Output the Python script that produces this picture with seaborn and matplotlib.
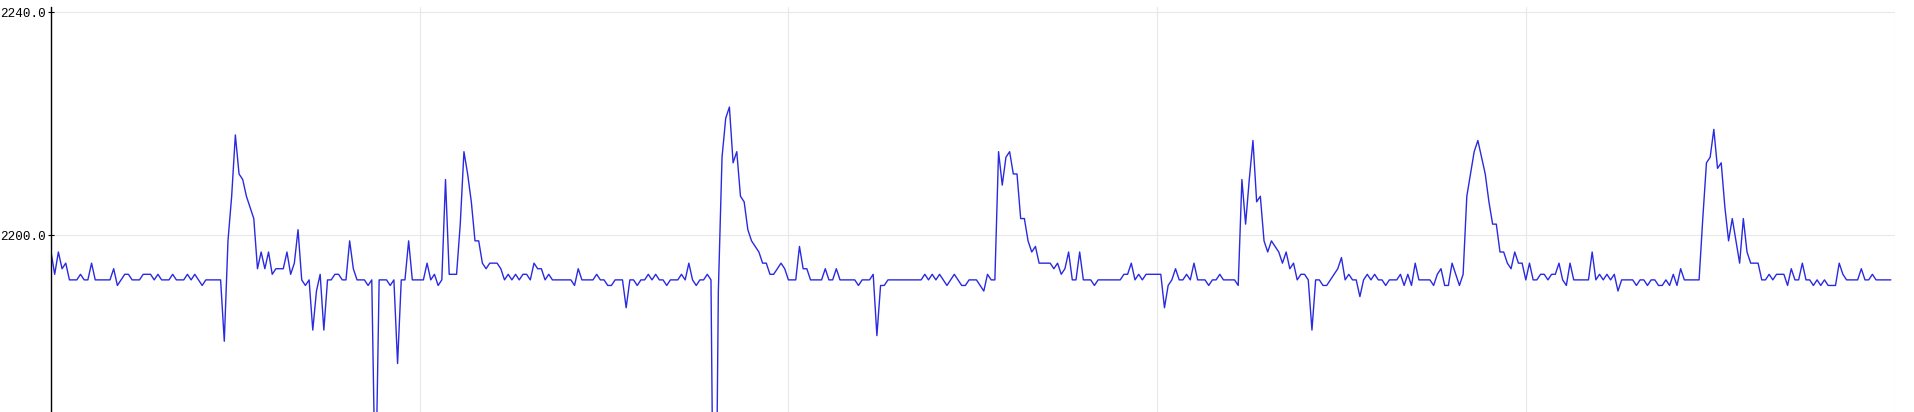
import numpy as np
import pandas as pd
import matplotlib
matplotlib.use('Agg')
import matplotlib.pyplot as plt
import seaborn as sns

# serial plotter buffer: 500 samples
signal = [
    2197, 2193, 2197, 2194, 2195, 2192, 2192, 2192, 2193, 2192,
    2192, 2195, 2192, 2192, 2192, 2192, 2192, 2194, 2191, 2192,
    2193, 2193, 2192, 2192, 2192, 2193, 2193, 2193, 2192, 2193,
    2192, 2192, 2192, 2193, 2192, 2192, 2192, 2193, 2192, 2193,
    2192, 2191, 2192, 2192, 2192, 2192, 2192, 2181, 2199, 2207,
    2218, 2211, 2210, 2207, 2205, 2203, 2194, 2197, 2194, 2197,
    2193, 2194, 2194, 2194, 2197, 2193, 2195, 2201, 2192, 2191,
    2192, 2183, 2190, 2193, 2183, 2192, 2192, 2193, 2193, 2192,
    2192, 2199, 2194, 2192, 2192, 2192, 2191, 2192, 2152, 2192,
    2192, 2192, 2191, 2192, 2177, 2192, 2192, 2199, 2192, 2192,
    2192, 2192, 2195, 2192, 2193, 2191, 2192, 2210, 2193, 2193,
    2193, 2202, 2215, 2211, 2206, 2199, 2199, 2195, 2194, 2195,
    2195, 2195, 2194, 2192, 2193, 2192, 2193, 2192, 2193, 2193,
    2192, 2195, 2194, 2194, 2192, 2193, 2192, 2192, 2192, 2192,
    2192, 2192, 2191, 2194, 2192, 2192, 2192, 2192, 2193, 2192,
    2192, 2191, 2191, 2192, 2192, 2192, 2187, 2192, 2192, 2191,
    2192, 2192, 2193, 2192, 2193, 2192, 2192, 2191, 2192, 2192,
    2192, 2193, 2192, 2195, 2192, 2191, 2192, 2192, 2193, 2192,
    2120, 2190, 2214, 2221, 2223, 2213, 2215, 2207, 2206, 2201,
    2199, 2198, 2197, 2195, 2195, 2193, 2193, 2194, 2195, 2194,
    2192, 2192, 2192, 2198, 2194, 2194, 2192, 2192, 2192, 2192,
    2194, 2192, 2192, 2194, 2192, 2192, 2192, 2192, 2192, 2191,
    2192, 2192, 2192, 2193, 2182, 2191, 2191, 2192, 2192, 2192,
    2192, 2192, 2192, 2192, 2192, 2192, 2192, 2193, 2192, 2193,
    2192, 2193, 2192, 2191, 2192, 2193, 2192, 2191, 2191, 2192,
    2192, 2192, 2191, 2190, 2193, 2192, 2192, 2215, 2209, 2214,
    2215, 2211, 2211, 2203, 2203, 2199, 2197, 2198, 2195, 2195,
    2195, 2195, 2194, 2195, 2193, 2194, 2197, 2192, 2192, 2197,
    2192, 2192, 2192, 2191, 2192, 2192, 2192, 2192, 2192, 2192,
    2192, 2193, 2193, 2195, 2192, 2193, 2192, 2193, 2193, 2193,
    2193, 2193, 2187, 2191, 2192, 2194, 2192, 2192, 2193, 2192,
    2195, 2192, 2192, 2192, 2191, 2192, 2192, 2193, 2192, 2192,
    2192, 2192, 2191, 2210, 2202, 2210, 2217, 2206, 2207, 2199,
    2197, 2199, 2198, 2197, 2195, 2197, 2194, 2195, 2192, 2193,
    2193, 2192, 2183, 2192, 2192, 2191, 2191, 2192, 2193, 2194,
    2196, 2192, 2193, 2192, 2192, 2189, 2192, 2193, 2192, 2193,
    2192, 2192, 2191, 2192, 2192, 2192, 2193, 2191, 2193, 2191,
    2195, 2192, 2192, 2192, 2192, 2191, 2193, 2194, 2191, 2191,
    2195, 2193, 2191, 2193, 2207, 2211, 2215, 2217, 2214, 2211,
    2206, 2202, 2202, 2197, 2197, 2195, 2194, 2197, 2195, 2195,
    2192, 2195, 2192, 2192, 2193, 2193, 2192, 2193, 2193, 2195,
    2192, 2191, 2195, 2192, 2192, 2192, 2192, 2192, 2197, 2192,
    2193, 2192, 2193, 2192, 2193, 2190, 2192, 2192, 2192, 2192,
    2191, 2192, 2192, 2191, 2192, 2192, 2191, 2191, 2192, 2191,
    2193, 2191, 2194, 2192, 2192, 2192, 2192, 2192, 2203, 2213,
    2214, 2219, 2212, 2213, 2205, 2199, 2203, 2199, 2195, 2203,
    2197, 2195, 2195, 2195, 2192, 2192, 2193, 2192, 2193, 2193,
    2193, 2191, 2194, 2192, 2192, 2195, 2192, 2192, 2191, 2192,
    2191, 2192, 2191, 2191, 2191, 2195, 2193, 2192, 2192, 2192,
    2192, 2194, 2192, 2192, 2193, 2192, 2192, 2192, 2192, 2192,
]
y_ticks = [2200.0, 2240.0]
y_tick_labels = ['2200.0', '2240.0']
x_grid = [0, 100, 200, 300, 400, 500]

df = pd.DataFrame({'sample': np.arange(len(signal)), 'value': signal})

sns.set_theme(style='white')
plt.rcParams['font.family'] = ['Liberation Mono', 'DejaVu Sans Mono']

fig = plt.figure(figsize=(19.14, 4.12), dpi=100)
# the screenshot cuts the plot off at the bottom, so the axes run to the edge
ax = fig.add_axes([51 / 1914, 0, 1843.5 / 1914, 405 / 412])

sns.lineplot(data=df, x='sample', y='value', ax=ax, color='#2a2ae0', linewidth=1.0)

ax.set_xlim(0, 500)
ax.set_ylim(2168.3, 2240.95)
ax.set_xlabel('')
ax.set_ylabel('')

ax.set_xticks(x_grid)
ax.tick_params(axis='x', length=0, labelbottom=False)
ax.set_yticks(y_ticks)
ax.set_yticklabels(y_tick_labels)
ax.tick_params(axis='y', direction='inout', length=4, width=0.8, color='black',
               labelsize=9.1, labelcolor='black', pad=1.4, left=True)

ax.grid(True, color='#e8e8e8', linewidth=0.8)
for side in ['top', 'right', 'bottom']:
    ax.spines[side].set_visible(False)
ax.spines['left'].set_color('black')
ax.spines['left'].set_linewidth(1.0)

fig.savefig('out.png', dpi=100)
